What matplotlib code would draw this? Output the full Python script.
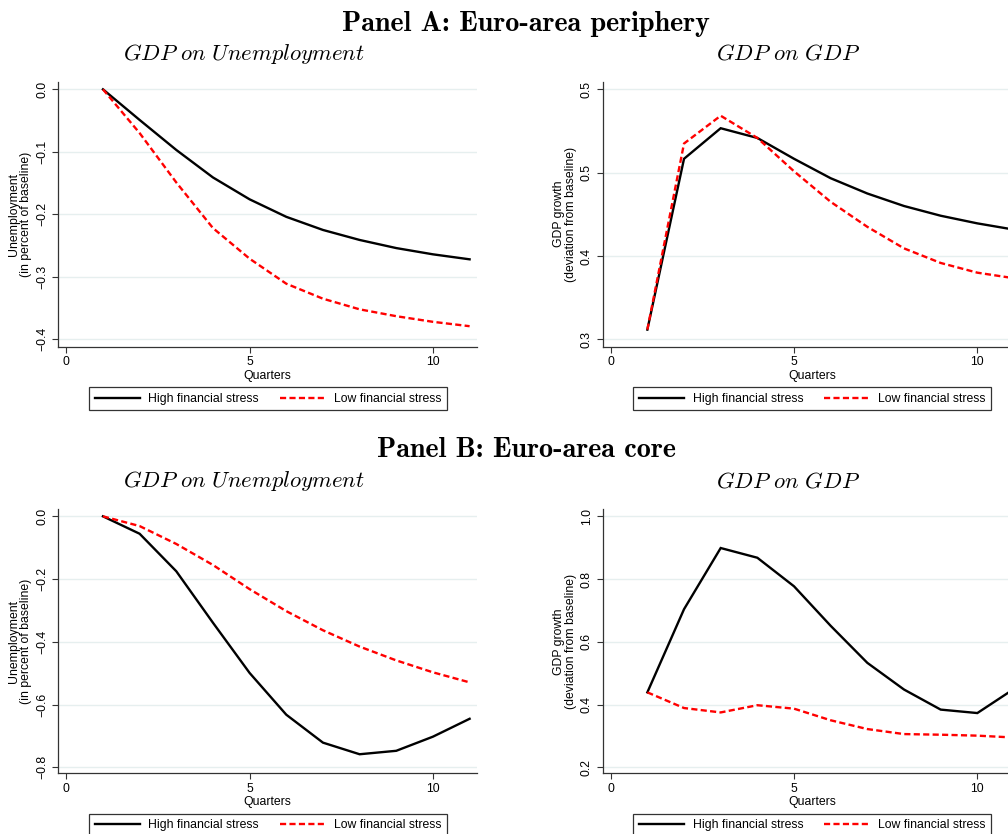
import numpy as np
import matplotlib
matplotlib.use("Agg")
import matplotlib.pyplot as plt
from matplotlib.ticker import FuncFormatter

plt.rcParams['font.family'] = ['Liberation Sans', 'DejaVu Sans']
plt.rcParams['mathtext.fontset'] = 'cm'

quarters = [1, 2, 3, 4, 5, 6, 7, 8, 9, 10, 11]

# Panel A: periphery
a_unemp_high = [0.0, -0.049, -0.097, -0.141, -0.176, -0.204, -0.225, -0.241, -0.254, -0.264, -0.272]
a_unemp_low = [0.0, -0.070, -0.149, -0.222, -0.271, -0.311, -0.335, -0.352, -0.363, -0.372, -0.379]
a_gdp_high = [0.347, 0.470, 0.492, 0.485, 0.470, 0.456, 0.445, 0.436, 0.429, 0.4235, 0.419]
a_gdp_low = [0.347, 0.481, 0.501, 0.485, 0.461, 0.439, 0.421, 0.4055, 0.395, 0.388, 0.384]

# Panel B: core
b_unemp_high = [0.0, -0.0555, -0.175, -0.339, -0.499, -0.632, -0.721, -0.758, -0.747, -0.702, -0.645]
b_unemp_low = [0.0, -0.031, -0.088, -0.155, -0.232, -0.302, -0.363, -0.415, -0.459, -0.497, -0.529]
b_gdp_high = [0.439, 0.704, 0.899, 0.868, 0.777, 0.651, 0.533, 0.448, 0.384, 0.373, 0.450]
b_gdp_low = [0.439, 0.389, 0.375, 0.398, 0.387, 0.350, 0.322, 0.306, 0.304, 0.301, 0.295]

x_ticks = [0, 5, 10]
a_unemp_ticks = [0.0, -0.1, -0.2, -0.3, -0.4]
a_gdp_ticks = [0.34, 0.40, 0.46, 0.52]
b_unemp_ticks = [0.0, -0.2, -0.4, -0.6, -0.8]
b_gdp_ticks = [0.2, 0.4, 0.6, 0.8, 1.0]

unemp_label = "Unemployment\n(in percent of baseline)"
gdp_label = "GDP growth\n(deviation from baseline)"
legend_labels = ["High financial stress", "Low financial stress"]

W, H = 1008, 834
fig = plt.figure(figsize=(W / 100, H / 100), dpi=100)

FS = 8.8
grid_col = '#e6efef'


def fmt(v, pos):
    s = '%.1f' % v
    return s.replace('-', '\u2212')


def panel(left_px, top_px, bottom_px, high, low, yticks, ylim, ylabel):
    ax = fig.add_axes([left_px / W, 1 - bottom_px / H, 419 / W, (bottom_px - top_px) / H])
    for yt in yticks:
        ax.axhline(yt, color=grid_col, lw=1.0, zorder=0)
    l1, = ax.plot(quarters, high, color='black', lw=1.7, solid_joinstyle='miter')
    l2, = ax.plot(quarters, low, color='#ff0000', lw=1.7, dashes=(2.6, 1.4))
    ax.set_xlim(-0.218, 11.21)
    ax.set_ylim(*ylim)
    ax.set_xticks(x_ticks)
    ax.set_yticks(yticks)
    ax.yaxis.set_major_formatter(FuncFormatter(fmt))
    ax.spines['top'].set_visible(False)
    ax.spines['right'].set_visible(False)
    for s in ['left', 'bottom']:
        ax.spines[s].set_color('#333333')
        ax.spines[s].set_linewidth(0.9)
    ax.tick_params(length=4.5, width=0.8, color='#333333', labelsize=FS, pad=2.5)
    for t in ax.get_yticklabels():
        t.set_rotation(90)
        t.set_va('center')
    ax.set_xlabel("Quarters", fontsize=FS, labelpad=1)
    ax.set_ylabel(ylabel, fontsize=FS, labelpad=3, linespacing=1.0)
    leg = ax.legend([l1, l2], legend_labels, loc='upper center',
                    bbox_to_anchor=(0.5, -40.6 / (bottom_px - top_px)), ncol=2,
                    fontsize=FS, frameon=True, fancybox=False, borderaxespad=0,
                    handlelength=3.7, handletextpad=0.7, columnspacing=1.7,
                    borderpad=0.45)
    leg.get_frame().set_edgecolor('black')
    leg.get_frame().set_linewidth(0.9)
    return ax


panel(58.3, 81.7, 346.7, a_unemp_high, a_unemp_low, a_unemp_ticks, (-0.4118, 0.0122), unemp_label)
panel(602.7, 81.7, 346.7, a_gdp_high, a_gdp_low, a_gdp_ticks, (0.3347, 0.5255), gdp_label)
panel(58.3, 509.3, 773.3, b_unemp_high, b_unemp_low, b_unemp_ticks, (-0.8187, 0.0224), unemp_label)
panel(602.7, 509.3, 773.3, b_gdp_high, b_gdp_low, b_gdp_ticks, (0.181, 1.0224), gdp_label)

# titles
fig.text(526 / W, 1 - 31 / H, "Panel A: Euro-area periphery", family='cmb10',
         fontsize=20.3, ha='center', va='baseline')
fig.text(526 / W, 1 - 457 / H, "Panel B: Euro-area core", family='cmb10',
         fontsize=20.3, ha='center', va='baseline')
for cx in [244, 788]:
    sub = r'$GDP\ on\ Unemployment$' if cx == 244 else r'$GDP\ on\ GDP$'
    fig.text(cx / W, 1 - 60 / H, sub, fontsize=16.3, ha='center', va='baseline')
    fig.text(cx / W, 1 - 487.3 / H, sub, fontsize=16.3, ha='center', va='baseline')

fig.savefig("out.png", dpi=100)
